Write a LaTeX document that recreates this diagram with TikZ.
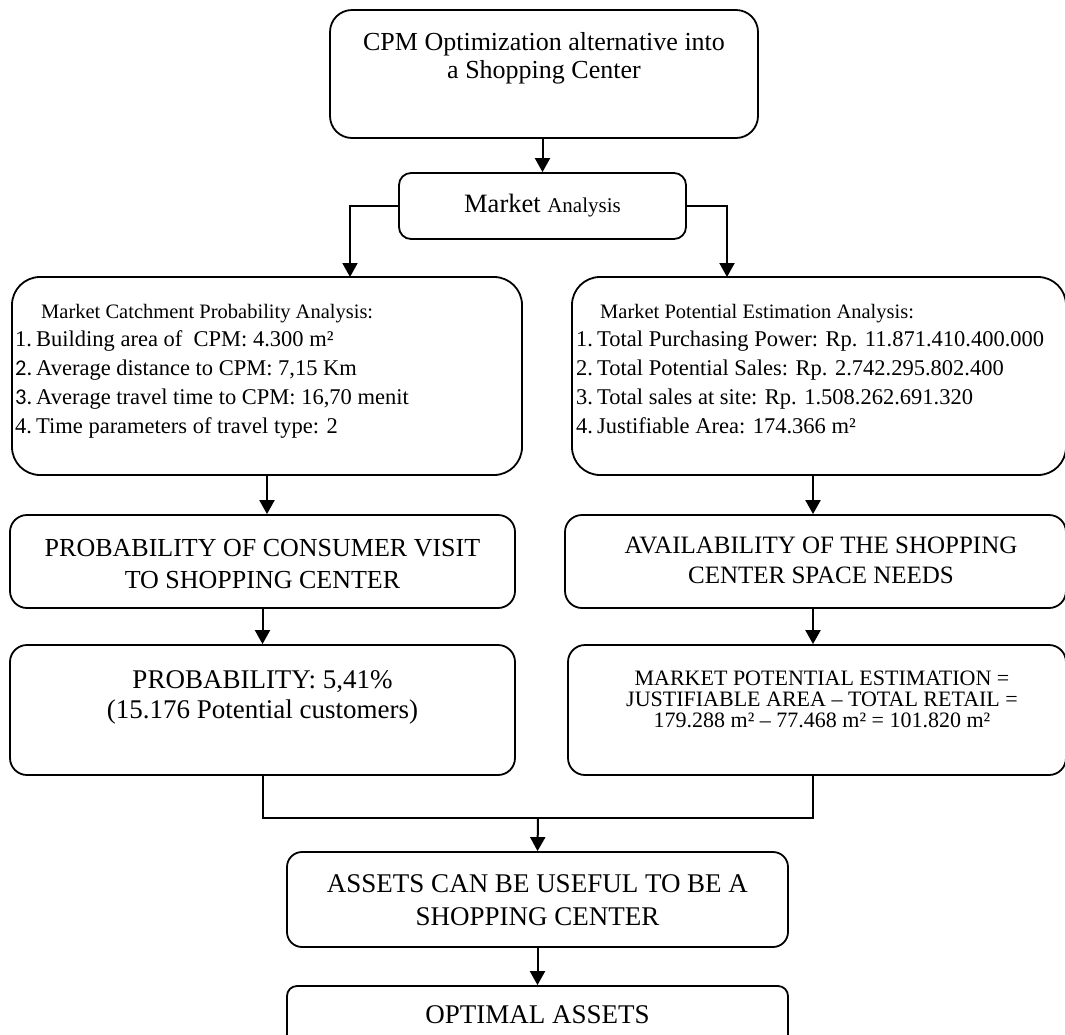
\documentclass[tikz,border=0pt]{standalone}
\usepackage{fontspec}
\setmainfont{Liberation Serif}
\newfontfamily\numsans{Carlito}
\usetikzlibrary{arrows.meta}
\begin{document}
\begin{tikzpicture}[x=1pt,y=-1pt,
  box/.style={draw, line width=1.8pt, rounded corners=#1, inner sep=0pt},
  box/.default=17pt,
  conn/.style={line width=2pt},
  arr/.style={line width=2pt, -{Triangle[width=15pt,length=14pt]}},
  ln/.style={inner sep=0pt, anchor=base},
  lnl/.style={inner sep=0pt, anchor=base west},
  fbig/.style={font=\fontsize{26}{26}\selectfont},
  fhead/.style={font=\fontsize{20.5}{20.5}\selectfont},
  fitem/.style={font=\fontsize{22.5}{22.5}\selectfont},
]
\useasboundingbox (0,0) rectangle (1065,1034);
\clip (0,0) rectangle (1065,1034);

% boxes
\node[box=22pt, minimum width=428pt, minimum height=128pt] (top) at (544,74) {};
\node[box=12pt, minimum width=287pt, minimum height=66pt] (ma) at (542.5,206) {};
\node[box=28pt, minimum width=510pt, minimum height=198pt] (l1) at (267,376) {};
\node[box=28pt, minimum width=494pt, minimum height=198pt] (r1) at (819,376) {};
\node[box, minimum width=505pt, minimum height=93pt] (l2) at (262.5,561.5) {};
\node[box, minimum width=501pt, minimum height=93pt] (r2) at (815.5,561.5) {};
\node[box, minimum width=505pt, minimum height=130pt] (l3) at (262.5,710) {};
\node[box, minimum width=498pt, minimum height=130pt] (r3) at (817,710) {};
\node[box=15pt, minimum width=501pt, minimum height=95pt] (as) at (537.5,899.5) {};
\node[box=10pt, minimum width=501pt, minimum height=94pt] (op) at (537.5,1033) {};

% texts
\node[ln, fbig] (t1) at (544,50) {CPM Optimization alternative into};
\node[ln, fbig] (t2) at (544,78) {a Shopping Center};
\node[ln] (tma) at (542.5,212) {\fontsize{26.5}{26.5}\selectfont Market \fontsize{21}{21}\selectfont Analysis};

\node[lnl, fhead] (lh) at (41,318) {Market Catchment Probability Analysis:};
\node[lnl, fitem] (ln1) at (15,346) {1.};
\node[lnl, fitem] (li1) at (36,346) {Building area of\ \ CPM: 4.300 m²};
\node[lnl, fitem] (ln2) at (15,375) {\numsans 2.};
\node[lnl, fitem] (li2) at (36,375) {Average distance to CPM: 7,15 Km};
\node[lnl, fitem] (ln3) at (15,404) {\numsans 3.};
\node[lnl, fitem] (li3) at (36,404) {Average travel time to CPM: 16,70 menit};
\node[lnl, fitem] (ln4) at (15,433) {4.};
\node[lnl, fitem] (li4) at (36,433) {Time parameters of travel type: 2};

\node[lnl, fhead] (rh) at (600,318) {Market Potential Estimation Analysis:};
\node[lnl, fitem] (rn1) at (576,346) {1.};
\node[lnl, fitem] (ri1) at (597,346) {Total Purchasing Power: Rp. 11.871.410.400.000};
\node[lnl, fitem] (rn2) at (576,375) {2.};
\node[lnl, fitem] (ri2) at (597,375) {Total Potential Sales: Rp. 2.742.295.802.400};
\node[lnl, fitem] (rn3) at (576,404) {3.};
\node[lnl, fitem] (ri3) at (597,404) {Total sales at site: Rp. 1.508.262.691.320};
\node[lnl, fitem] (rn4) at (576,433) {4.};
\node[lnl, fitem] (ri4) at (597,433) {Justifiable Area: 174.366 m²};

\node[ln, fbig] (l2a) at (262.5,556) {PROBABILITY OF CONSUMER VISIT};
\node[ln, fbig] (l2b) at (262.5,588) {TO SHOPPING CENTER};
\node[ln, font=\fontsize{25}{25}\selectfont] (r2a) at (821,553) {AVAILABILITY OF THE SHOPPING};
\node[ln, font=\fontsize{25}{25}\selectfont] (r2b) at (821,583) {CENTER SPACE NEEDS};

\node[ln, font=\fontsize{27}{27}\selectfont] (l3a) at (262.5,688) {PROBABILITY: 5,41\%};
\node[ln, font=\fontsize{27}{27}\selectfont] (l3b) at (262.5,718) {(15.176 Potential customers)};
\node[ln, font=\fontsize{22}{22}\selectfont] (r3a) at (822,685) {MARKET POTENTIAL ESTIMATION =};
\node[ln, font=\fontsize{22}{22}\selectfont] (r3b) at (822,706) {JUSTIFIABLE AREA – TOTAL RETAIL =};
\node[ln, font=\fontsize{22}{22}\selectfont] (r3c) at (822,727) {179.288 m² – 77.468 m² = 101.820 m²};

\node[ln, font=\fontsize{27}{27}\selectfont] (asa) at (537.5,892) {ASSETS CAN BE USEFUL TO BE A};
\node[ln, font=\fontsize{27}{27}\selectfont] (asb) at (537.5,925) {SHOPPING CENTER};
\node[ln, font=\fontsize{27}{27}\selectfont] (opa) at (537.5,1023) {OPTIMAL ASSETS};

% connectors
\coordinate (lbx) at (350,277);
\coordinate (rbx) at (727,277);
\coordinate (rx) at (813,0);
\coordinate (jn) at (538,818);
\draw[arr] (ma.north |- top.south) -- (ma.north);
\draw[arr] (ma.west) -| (lbx);
\draw[arr] (ma.east) -| (rbx);
\draw[arr] (l1.south) -- (l1.south |- l2.north);
\draw[arr] (r1.south -| rx) -- (r2.north -| rx);
\draw[arr] (l2.south) -- (l3.north);
\draw[arr] (r2.south -| rx) -- (r3.north -| rx);
\draw[conn] (l3.south) -- (l3.south |- jn) -- (rx |- jn) -- (r3.south -| rx);
\draw[arr] (jn) -- (as.north);
\draw[arr] (as.south) -- (op.north);
\end{tikzpicture}
\end{document}
